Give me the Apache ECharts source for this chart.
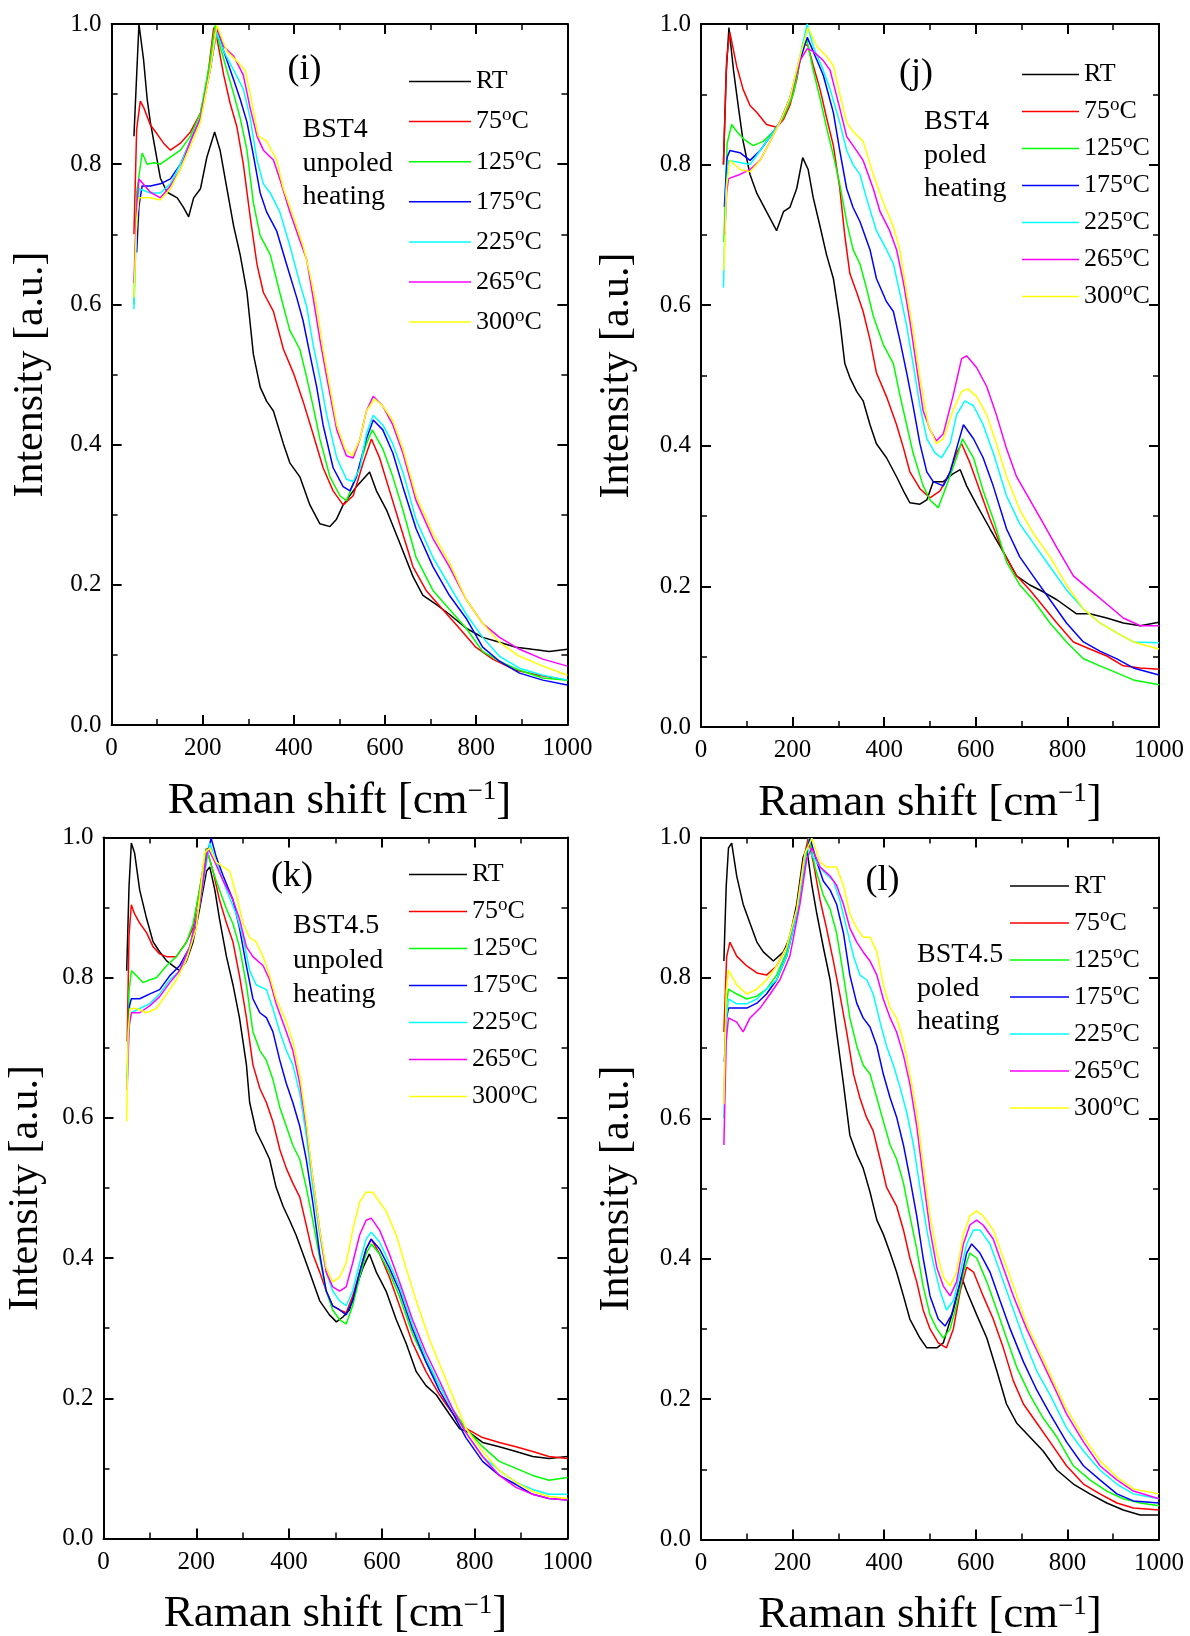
<!DOCTYPE html>
<html><head><meta charset="utf-8">
<script src="https://cdn.jsdelivr.net/npm/echarts@6/dist/echarts.min.js"></script>
<style>html,body{margin:0;padding:0;background:#fff}#c{width:1190px;height:1636px}</style>
</head><body><div id="c"></div><script>
const seriesNames = ['RT','75°C','125°C','175°C','225°C','265°C','300°C'];
const seriesColors = ['#000000','#ff0000','#00ff00','#0000ff','#00ffff','#ff00ff','#ffff00'];
const xTicks = [0,200,400,600,800,1000];
const yTicks = [0.0,0.2,0.4,0.6,0.8,1.0];
const panelTags = ['(i)','(j)','(k)','(l)'];
const panelNotes = [['BST4','unpoled','heating'],['BST4','poled','heating'],['BST4.5','unpoled','heating'],['BST4.5','poled','heating']];

// ---- panel (i) BST4 unpoled
const i_RT = [[49,0.84],[60,1.0],[70,0.95],[78,0.893],[85,0.86],[96,0.82],[107,0.78],[122,0.76],[144,0.752],[158,0.738],[169,0.725],[180,0.752],[195,0.765],[209,0.81],[226,0.846],[238,0.82],[253,0.765],[268,0.711],[282,0.671],[297,0.617],[311,0.529],[326,0.482],[340,0.462],[355,0.448],[377,0.401],[391,0.374],[413,0.354],[435,0.314],[457,0.287],[479,0.283],[493,0.293],[508,0.314],[537,0.34],[566,0.361],[581,0.334],[603,0.307],[632,0.26],[661,0.212],[683,0.185],[712,0.172],[741,0.158],[778,0.138],[814,0.125],[851,0.118],[887,0.111],[923,0.108],[960,0.105],[1000,0.108]];
const i_75 = [[49,0.70],[55,0.85],[63,0.89],[71,0.88],[85,0.856],[100,0.843],[114,0.83],[129,0.82],[151,0.83],[173,0.846],[195,0.873],[209,0.914],[224,0.995],[231,0.98],[246,0.927],[260,0.887],[275,0.853],[289,0.8],[304,0.725],[319,0.657],[333,0.617],[355,0.59],[377,0.536],[399,0.502],[420,0.462],[442,0.415],[464,0.367],[486,0.334],[508,0.314],[530,0.327],[552,0.374],[570,0.408],[588,0.381],[610,0.334],[632,0.287],[661,0.226],[690,0.192],[726,0.165],[763,0.138],[799,0.111],[836,0.094],[887,0.078],[938,0.071],[1000,0.064]];
const i_125 = [[49,0.60],[55,0.76],[67,0.816],[78,0.8],[93,0.802],[107,0.8],[129,0.81],[151,0.82],[173,0.84],[195,0.873],[216,0.947],[227,0.998],[238,0.968],[253,0.934],[268,0.9],[282,0.866],[297,0.82],[311,0.745],[326,0.698],[348,0.671],[369,0.617],[391,0.563],[413,0.536],[428,0.496],[442,0.455],[457,0.408],[479,0.354],[501,0.327],[515,0.32],[537,0.354],[559,0.401],[572,0.421],[595,0.394],[617,0.354],[639,0.307],[668,0.239],[705,0.192],[741,0.165],[778,0.138],[814,0.105],[851,0.091],[895,0.078],[946,0.067],[1000,0.064]];
const i_175 = [[55,0.674],[60,0.74],[67,0.769],[85,0.769],[107,0.772],[129,0.779],[151,0.8],[173,0.833],[195,0.866],[216,0.934],[231,0.995],[246,0.961],[268,0.92],[282,0.893],[297,0.86],[311,0.813],[326,0.759],[340,0.732],[362,0.705],[384,0.657],[406,0.61],[420,0.577],[435,0.529],[450,0.482],[464,0.428],[486,0.367],[508,0.34],[523,0.334],[537,0.354],[559,0.408],[574,0.435],[595,0.421],[617,0.388],[639,0.34],[668,0.28],[705,0.226],[741,0.185],[778,0.152],[814,0.111],[851,0.091],[895,0.074],[946,0.064],[1000,0.057]];
const i_225 = [[49,0.593],[55,0.72],[60,0.765],[85,0.759],[107,0.759],[129,0.772],[151,0.8],[173,0.833],[195,0.866],[216,0.934],[231,0.988],[246,0.961],[268,0.934],[289,0.907],[304,0.866],[319,0.806],[333,0.772],[348,0.759],[369,0.732],[391,0.684],[413,0.63],[428,0.597],[442,0.543],[457,0.496],[472,0.442],[494,0.381],[515,0.351],[530,0.347],[545,0.367],[559,0.415],[574,0.442],[595,0.428],[617,0.401],[639,0.361],[668,0.293],[705,0.239],[741,0.199],[778,0.158],[814,0.125],[851,0.098],[895,0.081],[946,0.071],[1000,0.064]];
const i_265 = [[49,0.63],[55,0.74],[60,0.779],[85,0.76],[107,0.752],[129,0.769],[151,0.793],[173,0.833],[195,0.866],[216,0.934],[231,0.995],[246,0.968],[268,0.954],[289,0.927],[304,0.88],[319,0.84],[333,0.82],[355,0.806],[369,0.779],[391,0.732],[413,0.691],[428,0.664],[442,0.61],[457,0.55],[472,0.496],[494,0.421],[515,0.384],[530,0.381],[545,0.408],[559,0.448],[574,0.469],[595,0.455],[617,0.428],[639,0.388],[668,0.32],[705,0.266],[741,0.226],[778,0.179],[814,0.145],[851,0.125],[895,0.108],[946,0.094],[1000,0.084]];
const i_300 = [[49,0.61],[55,0.72],[60,0.752],[85,0.752],[107,0.749],[129,0.765],[151,0.793],[173,0.826],[195,0.86],[216,0.934],[231,0.998],[253,0.961],[275,0.947],[293,0.934],[308,0.887],[322,0.84],[340,0.833],[362,0.806],[377,0.765],[399,0.725],[420,0.684],[435,0.644],[450,0.597],[464,0.536],[479,0.482],[494,0.428],[512,0.394],[528,0.384],[545,0.408],[559,0.448],[577,0.465],[595,0.455],[617,0.434],[639,0.394],[668,0.327],[705,0.273],[741,0.232],[778,0.179],[814,0.145],[851,0.118],[895,0.098],[946,0.084],[1000,0.071]];

// ---- panel (j) BST4 poled
const j_RT = [[49,0.8],[55,0.93],[61,0.995],[71,0.934],[82,0.88],[92,0.833],[107,0.786],[122,0.759],[143,0.733],[165,0.706],[180,0.733],[194,0.739],[209,0.766],[222,0.81],[234,0.793],[245,0.753],[260,0.712],[274,0.672],[289,0.638],[303,0.578],[314,0.517],[325,0.497],[340,0.477],[354,0.464],[369,0.43],[383,0.403],[405,0.383],[427,0.356],[442,0.336],[456,0.319],[478,0.317],[493,0.323],[507,0.349],[529,0.349],[550,0.36],[566,0.366],[580,0.343],[602,0.316],[631,0.282],[660,0.249],[689,0.215],[718,0.202],[748,0.192],[777,0.181],[820,0.161],[849,0.161],[886,0.155],[922,0.148],[959,0.144],[1000,0.149]];
const j_75 = [[49,0.8],[56,0.95],[63,0.988],[78,0.94],[92,0.907],[107,0.884],[122,0.874],[143,0.857],[165,0.853],[180,0.864],[194,0.884],[209,0.921],[223,0.974],[234,0.968],[245,0.941],[260,0.907],[274,0.867],[289,0.827],[303,0.766],[314,0.699],[325,0.645],[340,0.618],[354,0.591],[369,0.551],[383,0.504],[405,0.47],[427,0.43],[442,0.397],[456,0.363],[478,0.339],[500,0.326],[522,0.336],[544,0.363],[558,0.39],[569,0.403],[587,0.376],[609,0.336],[631,0.296],[660,0.249],[689,0.215],[718,0.195],[748,0.171],[777,0.148],[813,0.121],[849,0.111],[886,0.101],[922,0.087],[959,0.084],[1000,0.082]];
const j_125 = [[50,0.69],[57,0.83],[67,0.857],[78,0.847],[92,0.837],[114,0.827],[136,0.833],[158,0.847],[180,0.867],[202,0.901],[220,0.961],[231,0.978],[245,0.934],[260,0.894],[274,0.853],[289,0.813],[303,0.772],[318,0.719],[332,0.679],[347,0.659],[361,0.625],[376,0.585],[398,0.544],[420,0.517],[435,0.47],[449,0.43],[463,0.39],[485,0.343],[500,0.323],[518,0.312],[536,0.343],[558,0.383],[571,0.41],[595,0.383],[616,0.336],[638,0.296],[667,0.235],[696,0.202],[725,0.181],[762,0.148],[798,0.121],[835,0.097],[871,0.087],[908,0.077],[944,0.067],[1000,0.06]];
const j_175 = [[51,0.74],[57,0.81],[63,0.82],[85,0.817],[107,0.806],[129,0.82],[151,0.84],[172,0.86],[194,0.894],[216,0.948],[232,0.981],[245,0.961],[267,0.927],[289,0.874],[303,0.82],[318,0.766],[332,0.739],[347,0.719],[369,0.679],[383,0.638],[405,0.605],[420,0.591],[434,0.551],[449,0.504],[463,0.457],[478,0.403],[493,0.363],[507,0.349],[529,0.343],[544,0.363],[558,0.396],[573,0.43],[595,0.41],[616,0.383],[638,0.343],[667,0.282],[696,0.242],[725,0.215],[762,0.181],[798,0.148],[835,0.121],[871,0.108],[908,0.097],[944,0.084],[1000,0.074]];
const j_225 = [[49,0.625],[54,0.76],[60,0.806],[85,0.803],[107,0.8],[129,0.82],[151,0.84],[172,0.86],[194,0.894],[216,0.954],[232,1.0],[245,0.968],[267,0.934],[282,0.907],[303,0.86],[318,0.82],[332,0.8],[347,0.786],[361,0.753],[383,0.706],[405,0.679],[420,0.659],[434,0.618],[449,0.571],[463,0.517],[478,0.457],[493,0.41],[511,0.39],[525,0.383],[544,0.403],[558,0.444],[576,0.464],[595,0.457],[616,0.43],[638,0.39],[667,0.329],[696,0.289],[725,0.262],[762,0.228],[798,0.195],[835,0.168],[871,0.148],[908,0.134],[944,0.121],[1000,0.12]];
const j_265 = [[52,0.70],[56,0.76],[60,0.78],[85,0.786],[107,0.793],[129,0.806],[151,0.833],[172,0.86],[194,0.894],[216,0.948],[232,0.965],[245,0.961],[267,0.948],[282,0.934],[303,0.88],[318,0.84],[332,0.827],[354,0.806],[376,0.766],[391,0.733],[412,0.706],[427,0.679],[442,0.632],[456,0.578],[471,0.511],[485,0.45],[500,0.423],[514,0.407],[529,0.417],[550,0.47],[569,0.524],[580,0.528],[602,0.511],[624,0.484],[645,0.444],[667,0.396],[689,0.356],[718,0.323],[748,0.289],[777,0.255],[813,0.215],[849,0.195],[886,0.175],[922,0.155],[959,0.144],[1000,0.144]];
const j_300 = [[50,0.65],[56,0.77],[63,0.806],[85,0.793],[107,0.79],[129,0.806],[151,0.833],[172,0.86],[194,0.894],[216,0.954],[234,0.995],[253,0.968],[274,0.954],[289,0.941],[303,0.9],[318,0.86],[332,0.847],[354,0.833],[376,0.786],[398,0.746],[420,0.712],[434,0.679],[449,0.618],[463,0.565],[478,0.497],[496,0.43],[514,0.403],[529,0.41],[550,0.45],[569,0.477],[583,0.481],[602,0.47],[624,0.444],[645,0.403],[667,0.356],[696,0.309],[725,0.276],[762,0.242],[798,0.202],[835,0.168],[871,0.148],[908,0.134],[944,0.121],[1000,0.111]];

// ---- panel (k) BST4.5 unpoled
const k_RT = [[50,0.81],[55,0.93],[60,0.992],[67,0.978],[78,0.925],[93,0.884],[107,0.851],[121,0.837],[136,0.824],[150,0.817],[164,0.81],[179,0.824],[193,0.851],[207,0.898],[222,0.952],[229,0.958],[240,0.925],[250,0.884],[265,0.83],[279,0.79],[293,0.743],[308,0.676],[315,0.622],[329,0.581],[344,0.561],[358,0.541],[372,0.501],[387,0.474],[401,0.454],[415,0.433],[430,0.406],[444,0.38],[466,0.339],[487,0.319],[502,0.309],[516,0.316],[530,0.326],[545,0.359],[559,0.386],[573,0.406],[588,0.38],[609,0.353],[631,0.312],[652,0.279],[674,0.238],[695,0.218],[717,0.205],[745,0.178],[767,0.157],[789,0.151],[817,0.137],[853,0.131],[889,0.124],[925,0.117],[960,0.114],[1000,0.117]];
const k_75 = [[51,0.709],[55,0.86],[60,0.904],[67,0.891],[78,0.878],[93,0.864],[107,0.844],[121,0.834],[136,0.83],[157,0.83],[179,0.851],[193,0.871],[207,0.925],[222,0.985],[236,0.952],[250,0.911],[265,0.878],[279,0.851],[293,0.803],[308,0.743],[322,0.676],[337,0.642],[351,0.622],[365,0.595],[380,0.555],[394,0.528],[408,0.507],[423,0.487],[437,0.447],[451,0.406],[466,0.38],[480,0.353],[494,0.332],[509,0.326],[523,0.322],[537,0.346],[552,0.38],[566,0.413],[577,0.427],[595,0.406],[616,0.373],[638,0.332],[666,0.279],[695,0.238],[724,0.205],[753,0.178],[781,0.157],[817,0.144],[853,0.137],[889,0.131],[925,0.124],[960,0.117],[1000,0.114]];
const k_125 = [[51,0.655],[55,0.78],[60,0.81],[71,0.803],[85,0.793],[100,0.797],[114,0.8],[136,0.817],[157,0.83],[179,0.851],[193,0.877],[207,0.925],[222,0.985],[236,0.952],[250,0.925],[265,0.898],[279,0.877],[293,0.844],[308,0.79],[322,0.723],[337,0.696],[351,0.682],[365,0.655],[380,0.615],[394,0.588],[408,0.561],[423,0.541],[437,0.501],[451,0.454],[466,0.4],[480,0.353],[494,0.326],[509,0.312],[523,0.306],[537,0.332],[552,0.373],[566,0.406],[577,0.42],[595,0.406],[616,0.38],[638,0.345],[666,0.292],[695,0.252],[724,0.218],[753,0.184],[781,0.157],[817,0.131],[853,0.11],[889,0.1],[925,0.09],[960,0.083],[1000,0.087]];
const k_175 = [[52,0.69],[56,0.76],[60,0.77],[78,0.77],[100,0.777],[121,0.783],[143,0.803],[164,0.817],[186,0.844],[207,0.904],[222,0.972],[232,0.999],[243,0.972],[258,0.945],[279,0.911],[293,0.871],[308,0.817],[322,0.77],[337,0.75],[351,0.743],[365,0.723],[380,0.682],[394,0.649],[408,0.622],[423,0.588],[437,0.541],[451,0.48],[466,0.406],[480,0.353],[494,0.332],[509,0.326],[523,0.319],[537,0.339],[552,0.38],[566,0.413],[577,0.427],[595,0.413],[616,0.386],[638,0.353],[666,0.299],[695,0.252],[724,0.211],[753,0.178],[781,0.144],[817,0.11],[853,0.09],[889,0.077],[925,0.063],[960,0.057],[1000,0.055]];
const k_225 = [[51,0.65],[55,0.73],[60,0.75],[78,0.756],[100,0.763],[121,0.777],[143,0.797],[164,0.81],[186,0.844],[207,0.904],[229,0.992],[243,0.965],[265,0.925],[286,0.891],[301,0.857],[315,0.81],[329,0.79],[351,0.783],[365,0.756],[380,0.723],[394,0.696],[408,0.676],[423,0.635],[437,0.575],[451,0.501],[466,0.433],[480,0.38],[494,0.353],[509,0.339],[523,0.332],[537,0.353],[552,0.393],[566,0.427],[577,0.437],[595,0.423],[616,0.393],[638,0.359],[666,0.305],[695,0.258],[724,0.218],[753,0.184],[781,0.151],[817,0.117],[853,0.097],[889,0.08],[925,0.07],[960,0.063],[1000,0.063]];
const k_265 = [[51,0.64],[55,0.73],[60,0.75],[78,0.75],[100,0.76],[121,0.773],[143,0.793],[164,0.81],[186,0.844],[207,0.904],[225,0.985],[240,0.965],[258,0.938],[279,0.911],[293,0.884],[308,0.844],[322,0.83],[344,0.817],[358,0.797],[372,0.763],[394,0.723],[408,0.696],[423,0.649],[437,0.588],[451,0.514],[466,0.44],[480,0.38],[494,0.359],[509,0.353],[523,0.359],[537,0.393],[552,0.433],[566,0.454],[577,0.457],[595,0.44],[616,0.406],[638,0.366],[666,0.312],[695,0.265],[724,0.225],[753,0.184],[781,0.151],[817,0.117],[853,0.09],[889,0.073],[925,0.063],[960,0.057],[1000,0.055]];
const k_300 = [[50,0.595],[53,0.72],[57,0.756],[71,0.756],[93,0.75],[114,0.756],[136,0.777],[157,0.797],[179,0.826],[200,0.871],[218,0.978],[229,0.985],[243,0.965],[258,0.958],[272,0.952],[286,0.918],[301,0.877],[315,0.857],[329,0.851],[344,0.83],[358,0.803],[372,0.77],[394,0.737],[408,0.709],[423,0.662],[437,0.595],[451,0.514],[466,0.44],[480,0.386],[494,0.366],[509,0.373],[523,0.393],[537,0.44],[552,0.48],[566,0.494],[580,0.494],[595,0.48],[609,0.467],[631,0.433],[652,0.386],[674,0.339],[702,0.285],[731,0.238],[760,0.191],[781,0.157],[817,0.124],[853,0.097],[889,0.08],[925,0.067],[960,0.06],[1000,0.057]];

// ---- panel (l) BST4.5 poled
const l_RT = [[50,0.824],[55,0.93],[60,0.985],[67,0.992],[78,0.945],[92,0.905],[107,0.878],[122,0.851],[136,0.837],[158,0.824],[180,0.837],[194,0.858],[209,0.905],[223,0.972],[231,0.985],[242,0.932],[253,0.891],[267,0.844],[282,0.797],[296,0.723],[311,0.649],[325,0.576],[340,0.549],[354,0.529],[369,0.495],[384,0.455],[398,0.435],[413,0.408],[427,0.381],[442,0.347],[456,0.314],[478,0.287],[493,0.273],[515,0.273],[529,0.28],[551,0.327],[569,0.374],[580,0.354],[602,0.32],[624,0.287],[646,0.24],[667,0.193],[689,0.166],[718,0.146],[747,0.126],[777,0.099],[813,0.079],[849,0.065],[886,0.052],[922,0.042],[959,0.035],[1000,0.035]];
const l_75 = [[50,0.723],[56,0.83],[63,0.851],[78,0.831],[100,0.817],[122,0.807],[143,0.804],[165,0.817],[187,0.844],[209,0.898],[223,0.965],[234,0.999],[245,0.965],[260,0.911],[274,0.871],[289,0.824],[303,0.777],[318,0.723],[333,0.663],[347,0.629],[361,0.602],[376,0.582],[391,0.542],[405,0.502],[427,0.475],[442,0.441],[456,0.401],[471,0.367],[485,0.327],[500,0.3],[518,0.28],[536,0.273],[551,0.3],[566,0.354],[580,0.388],[595,0.381],[616,0.347],[638,0.314],[660,0.273],[682,0.226],[704,0.193],[733,0.166],[762,0.139],[798,0.105],[835,0.079],[871,0.065],[908,0.052],[944,0.045],[1000,0.042]];
const l_125 = [[50,0.62],[55,0.76],[60,0.784],[78,0.777],[100,0.77],[122,0.774],[143,0.784],[165,0.804],[187,0.837],[209,0.89],[223,0.945],[236,0.999],[249,0.958],[267,0.918],[282,0.898],[296,0.864],[311,0.804],[325,0.743],[340,0.703],[354,0.676],[369,0.663],[384,0.629],[398,0.596],[413,0.562],[427,0.542],[442,0.508],[456,0.461],[471,0.414],[485,0.361],[500,0.32],[515,0.3],[529,0.287],[544,0.3],[558,0.334],[573,0.381],[587,0.408],[602,0.401],[624,0.367],[646,0.327],[667,0.287],[689,0.246],[718,0.206],[747,0.173],[777,0.146],[813,0.105],[849,0.085],[886,0.069],[922,0.058],[959,0.052],[1000,0.048]];
const l_175 = [[51,0.68],[55,0.74],[60,0.757],[78,0.757],[100,0.757],[122,0.764],[143,0.777],[165,0.797],[187,0.831],[209,0.89],[227,0.972],[238,0.999],[253,0.965],[267,0.938],[282,0.925],[296,0.905],[311,0.864],[325,0.804],[340,0.764],[354,0.743],[369,0.73],[384,0.703],[398,0.663],[413,0.629],[427,0.602],[442,0.562],[456,0.515],[471,0.461],[485,0.401],[500,0.347],[518,0.314],[533,0.304],[547,0.32],[566,0.367],[580,0.408],[591,0.421],[609,0.408],[631,0.381],[653,0.34],[675,0.3],[704,0.253],[733,0.213],[762,0.179],[798,0.139],[835,0.105],[871,0.085],[908,0.065],[944,0.055],[1000,0.052]];
const l_225 = [[50,0.60],[55,0.74],[60,0.77],[78,0.763],[100,0.763],[122,0.77],[143,0.784],[165,0.797],[187,0.831],[209,0.89],[231,0.985],[245,0.972],[267,0.952],[289,0.938],[303,0.911],[318,0.871],[333,0.831],[347,0.804],[362,0.797],[376,0.777],[391,0.737],[405,0.703],[420,0.676],[435,0.643],[449,0.609],[464,0.562],[478,0.502],[493,0.441],[507,0.394],[522,0.354],[536,0.327],[551,0.34],[566,0.381],[580,0.421],[595,0.441],[609,0.441],[631,0.421],[653,0.381],[675,0.34],[704,0.287],[733,0.24],[762,0.206],[798,0.159],[835,0.126],[871,0.099],[908,0.079],[944,0.065],[1000,0.058]];
const l_265 = [[50,0.562],[55,0.71],[60,0.743],[78,0.737],[92,0.723],[107,0.743],[129,0.757],[151,0.777],[172,0.797],[194,0.831],[216,0.905],[231,0.97],[242,0.985],[260,0.958],[282,0.945],[296,0.932],[311,0.905],[325,0.871],[340,0.851],[354,0.837],[369,0.824],[384,0.804],[398,0.77],[413,0.743],[427,0.723],[442,0.69],[456,0.649],[471,0.589],[485,0.515],[500,0.441],[515,0.387],[529,0.361],[544,0.347],[558,0.367],[573,0.421],[587,0.448],[602,0.455],[616,0.448],[638,0.428],[660,0.387],[682,0.347],[711,0.3],[740,0.26],[769,0.22],[798,0.179],[835,0.139],[871,0.105],[908,0.085],[944,0.069],[1000,0.058]];
const l_300 = [[50,0.62],[55,0.78],[60,0.811],[78,0.79],[100,0.777],[122,0.784],[143,0.797],[165,0.817],[187,0.844],[209,0.898],[227,0.978],[242,0.999],[260,0.965],[274,0.958],[296,0.958],[311,0.932],[325,0.891],[340,0.871],[354,0.858],[369,0.858],[384,0.837],[398,0.79],[413,0.757],[427,0.743],[442,0.71],[456,0.663],[471,0.609],[485,0.535],[500,0.461],[515,0.408],[529,0.374],[544,0.361],[558,0.381],[573,0.435],[587,0.461],[602,0.468],[616,0.461],[638,0.441],[660,0.401],[682,0.361],[711,0.307],[740,0.267],[769,0.226],[798,0.186],[835,0.146],[871,0.112],[908,0.089],[944,0.072],[1000,0.065]];

const panelData = [
  [i_RT,i_75,i_125,i_175,i_225,i_265,i_300],
  [j_RT,j_75,j_125,j_175,j_225,j_265,j_300],
  [k_RT,k_75,k_125,k_175,k_225,k_265,k_300],
  [l_RT,l_75,l_125,l_175,l_225,l_265,l_300]
];

// ---------- layout ----------
const FF = 'Liberation Serif';
const grids = [
  {left:111.6, top:24, width:455.8, height:701},
  {left:701, top:24, width:458, height:703},
  {left:103.5, top:837.5, width:464, height:701},
  {left:701, top:837.5, width:458, height:702}
];
const legendPos = [
  {left:409, top:65.5, w:62, gap:8.1},
  {left:1022, top:58.5, w:57, gap:5},
  {left:409, top:858.5, w:58, gap:5},
  {left:1010, top:870, w:59, gap:5}
];
const tagPos = [[304.6,70],[916,74],[292,877],[882.5,881]];
const notePos = [[302.5,[130,164,197]],[924,[122,155.5,189]],[293,[926,960.5,995]],[917,[955,989,1022]]];
const yTitleX = [31,617,26,617];

const axisCommon = {
  min:0, splitLine:{show:false},
  axisLine:{show:true, onZero:false, lineStyle:{color:'#000', width:2}},
  axisTick:{show:true, inside:true, length:10, lineStyle:{color:'#000', width:2}},
  minorTick:{show:true, splitNumber:2, length:6, lineStyle:{color:'#000', width:1.5}},
  minorSplitLine:{show:false}
};
const xAxes = [], yAxes = [];
grids.forEach((g, p) => {
  ['bottom','top'].forEach((pos, k) => {
    xAxes.push(Object.assign({}, axisCommon, {
      type:'value', gridIndex:p, position:pos, max:xTicks[xTicks.length-1], interval:xTicks[1]-xTicks[0],
      axisLabel:{show:k===0, margin:11, fontFamily:FF, fontSize:25, color:'#000', showMinLabel:true, showMaxLabel:true,
        formatter:v=>String(Math.round(v))}
    }));
  });
  ['left','right'].forEach((pos, k) => {
    yAxes.push(Object.assign({}, axisCommon, {
      type:'value', gridIndex:p, position:pos, max:yTicks[yTicks.length-1], interval:0.2,
      axisLabel:{show:k===0, margin:10, fontFamily:FF, fontSize:25, color:'#000', formatter:v=>v.toFixed(1), showMinLabel:true, showMaxLabel:true}
    }));
  });
});

const series = [];
panelData.forEach((arr, p) => {
  arr.forEach((d, s) => {
    series.push({
      type:'line', name:seriesNames[s], xAxisIndex:2*p, yAxisIndex:2*p, data:d,
      showSymbol:false, symbol:'none', smooth:false, clip:true,
      lineStyle:{width:1.5, color:seriesColors[s]}, itemStyle:{color:seriesColors[s]},
      z:2+s
    });
  });
});

function fmtName(n){
  if (n === 'RT') return '{a|RT}{s| }';
  const num = n.replace('°C','');
  return '{a|' + num + '}{s|o}{a|C}';
}
const legendRich = {
  a:{fontFamily:FF, fontSize:26, lineHeight:26, color:'#000'},
  s:{fontFamily:FF, fontSize:19, lineHeight:19, padding:[0,0,13,0], color:'#000'}
};
const legends = legendPos.map(lp => ({
  orient:'vertical', left:lp.left, top:lp.top, itemWidth:lp.w, itemHeight:1.5, itemGap:lp.gap,
  icon:'rect', selectedMode:false, data:seriesNames, formatter:fmtName, padding:0,
  textStyle:{fontFamily:FF, fontSize:26, color:'#000', rich:legendRich}
}));

const graphics = [];
grids.forEach((g, p) => {
  graphics.push({type:'text', x:tagPos[p][0], y:tagPos[p][1],
    style:{text:panelTags[p], font:'36px "'+FF+'"', fill:'#000', align:'center', verticalAlign:'middle'}});
  panelNotes[p].forEach((t, r) => {
    graphics.push({type:'text', x:notePos[p][0], y:notePos[p][1][r],
      style:{text:t, font:'28px "'+FF+'"', fill:'#000', align:'left', verticalAlign:'middle'}});
  });
  // x axis title
  graphics.push({type:'text', x:g.left + g.width/2, y:g.top + g.height + 76,
    style:{text:'{a|Raman shift [cm}{s|−1}{a|]}', align:'center', verticalAlign:'middle', fill:'#000',
      rich:{a:{fontFamily:FF, fontSize:45, lineHeight:46, fill:'#000', color:'#000'},
            s:{fontFamily:FF, fontSize:27, lineHeight:27, padding:[0,0,18,0], fill:'#000', color:'#000'}}}});
  // y axis title
  graphics.push({type:'text', x:yTitleX[p], y:g.top + g.height/2, rotation:Math.PI/2,
    style:{text:'Intensity [a.u.]', font:'42px "'+FF+'"', fill:'#000', align:'center', verticalAlign:'middle'}});
});

const chart = echarts.init(document.getElementById('c'), null, {renderer:'canvas'});
chart.setOption({
  animation:false, backgroundColor:'#fff', textStyle:{fontFamily:FF},
  grid:grids, xAxis:xAxes, yAxis:yAxes, series:series, legend:legends, graphic:graphics
});
</script></body></html>
